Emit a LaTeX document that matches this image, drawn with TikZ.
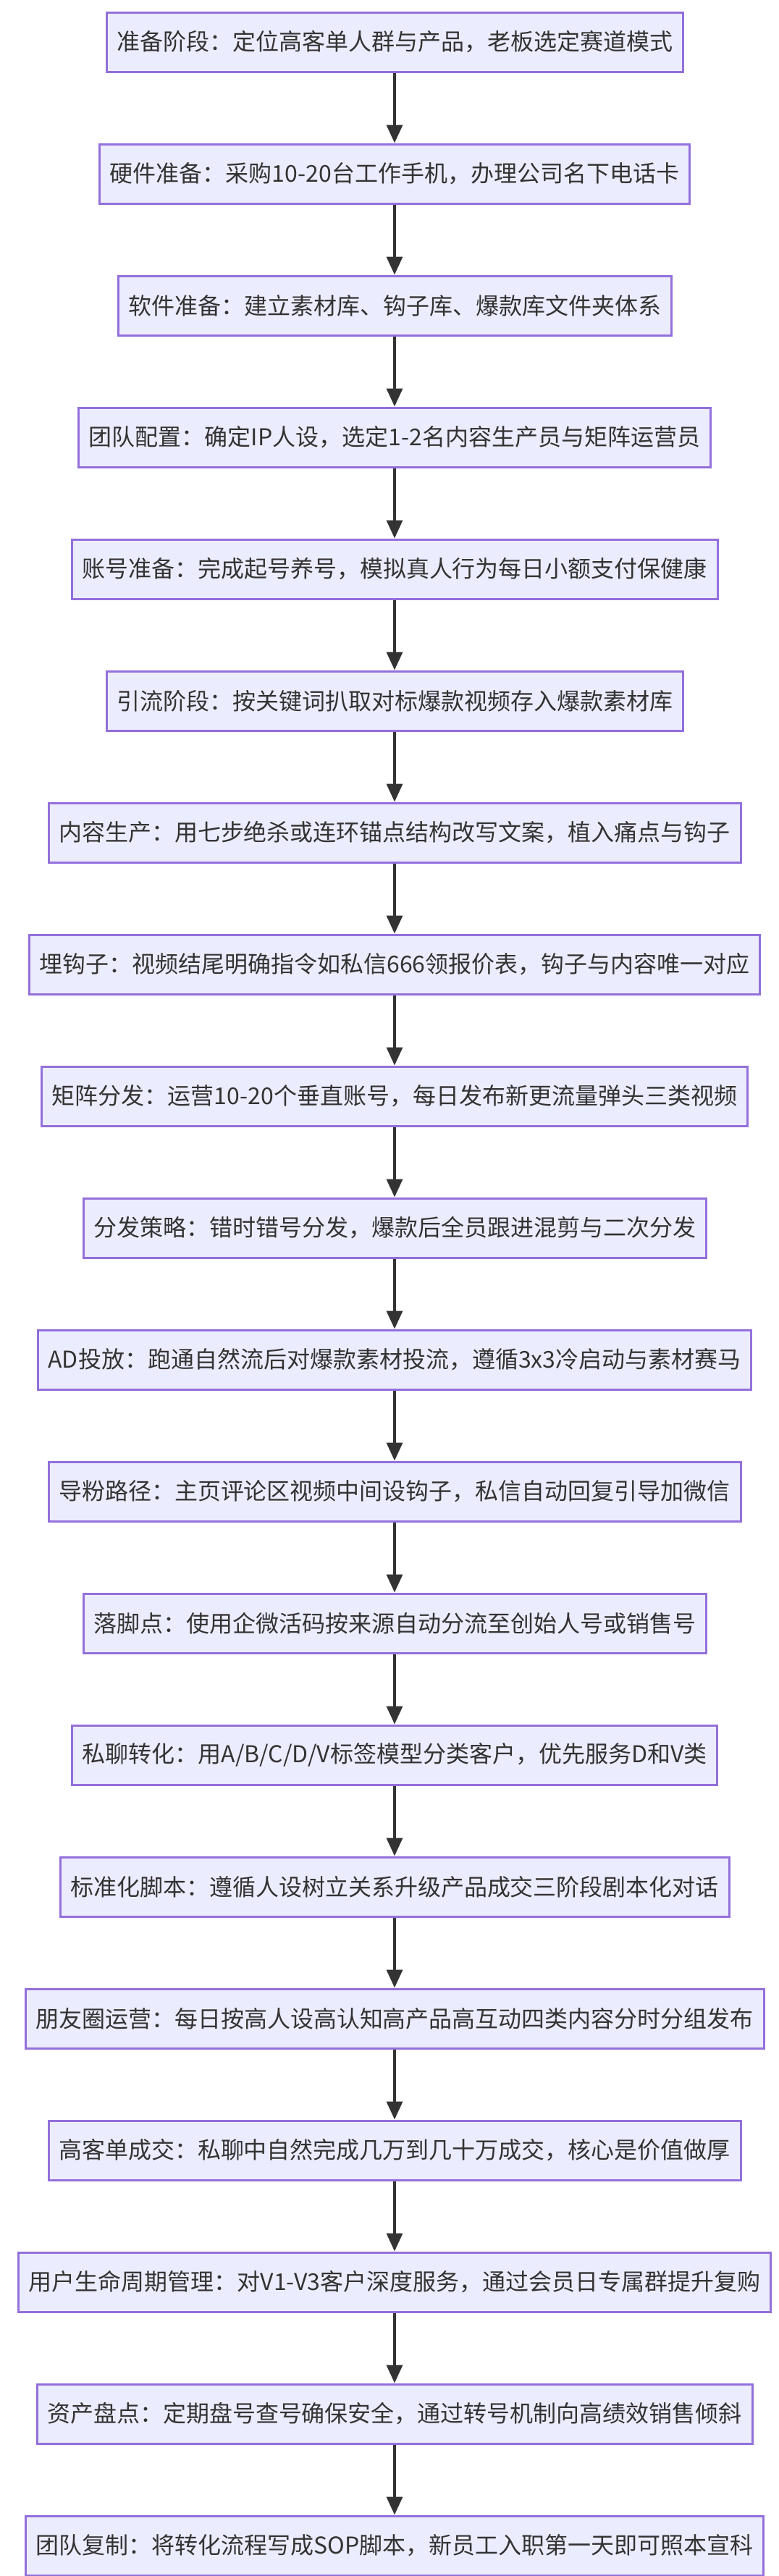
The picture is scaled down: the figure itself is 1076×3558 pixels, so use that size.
\documentclass[tikz,border=0pt]{standalone}
\usepackage{fontspec}
\setmainfont{Noto Sans CJK SC}
\usetikzlibrary{arrows.meta}
\definecolor{boxfill}{HTML}{ECECFF}
\definecolor{boxline}{HTML}{9370DB}
\definecolor{arr}{HTML}{333333}
\tikzset{stepbox/.style={draw=boxline,fill=boxfill,line width=3pt,minimum height=82pt,inner xsep=14pt,inner ysep=0pt,font=\fontsize{32pt}{37pt}\selectfont,text=arr},
flow/.style={draw=arr,line width=3.5pt,-{Triangle[length=25pt,width=22pt]}}}
\begin{document}
\begin{tikzpicture}[x=1pt,y=1pt]
\useasboundingbox (0,0) rectangle (1076,-3558);
\foreach \t [count=\i from 0] in {
准备阶段：定位高客单人群与产品，老板选定赛道模式,
硬件准备：采购10-20台工作手机，办理公司名下电话卡,
软件准备：建立素材库、钩子库、爆款库文件夹体系,
团队配置：确定IP人设，选定1-2名内容生产员与矩阵运营员,
账号准备：完成起号养号，模拟真人行为每日小额支付保健康,
引流阶段：按关键词扒取对标爆款视频存入爆款素材库,
内容生产：用七步绝杀或连环锚点结构改写文案，植入痛点与钩子,
埋钩子：视频结尾明确指令如私信666领报价表，钩子与内容唯一对应,
矩阵分发：运营10-20个垂直账号，每日发布新更流量弹头三类视频,
分发策略：错时错号分发，爆款后全员跟进混剪与二次分发,
AD投放：跑通自然流后对爆款素材投流，遵循3x3冷启动与素材赛马,
导粉路径：主页评论区视频中间设钩子，私信自动回复引导加微信,
落脚点：使用企微活码按来源自动分流至创始人号或销售号,
私聊转化：用A/B/C/D/V标签模型分类客户，优先服务D和V类,
标准化脚本：遵循人设树立关系升级产品成交三阶段剧本化对话,
朋友圈运营：每日按高人设高认知高产品高互动四类内容分时分组发布,
高客单成交：私聊中自然完成几万到几十万成交，核心是价值做厚,
用户生命周期管理：对V1-V3客户深度服务，通过会员日专属群提升复购,
资产盘点：定期盘号查号确保安全，通过转号机制向高绩效销售倾斜,
团队复制：将转化流程写成SOP脚本，新员工入职第一天即可照本宣科}
{\node[stepbox] (n\i) at (545,{-58-182*\i}) {\t};}
\foreach \i [evaluate=\i as \j using int(\i+1)] in {0,...,18}
{\draw[flow] (n\i) -- (n\j);}
\end{tikzpicture}
\end{document}
